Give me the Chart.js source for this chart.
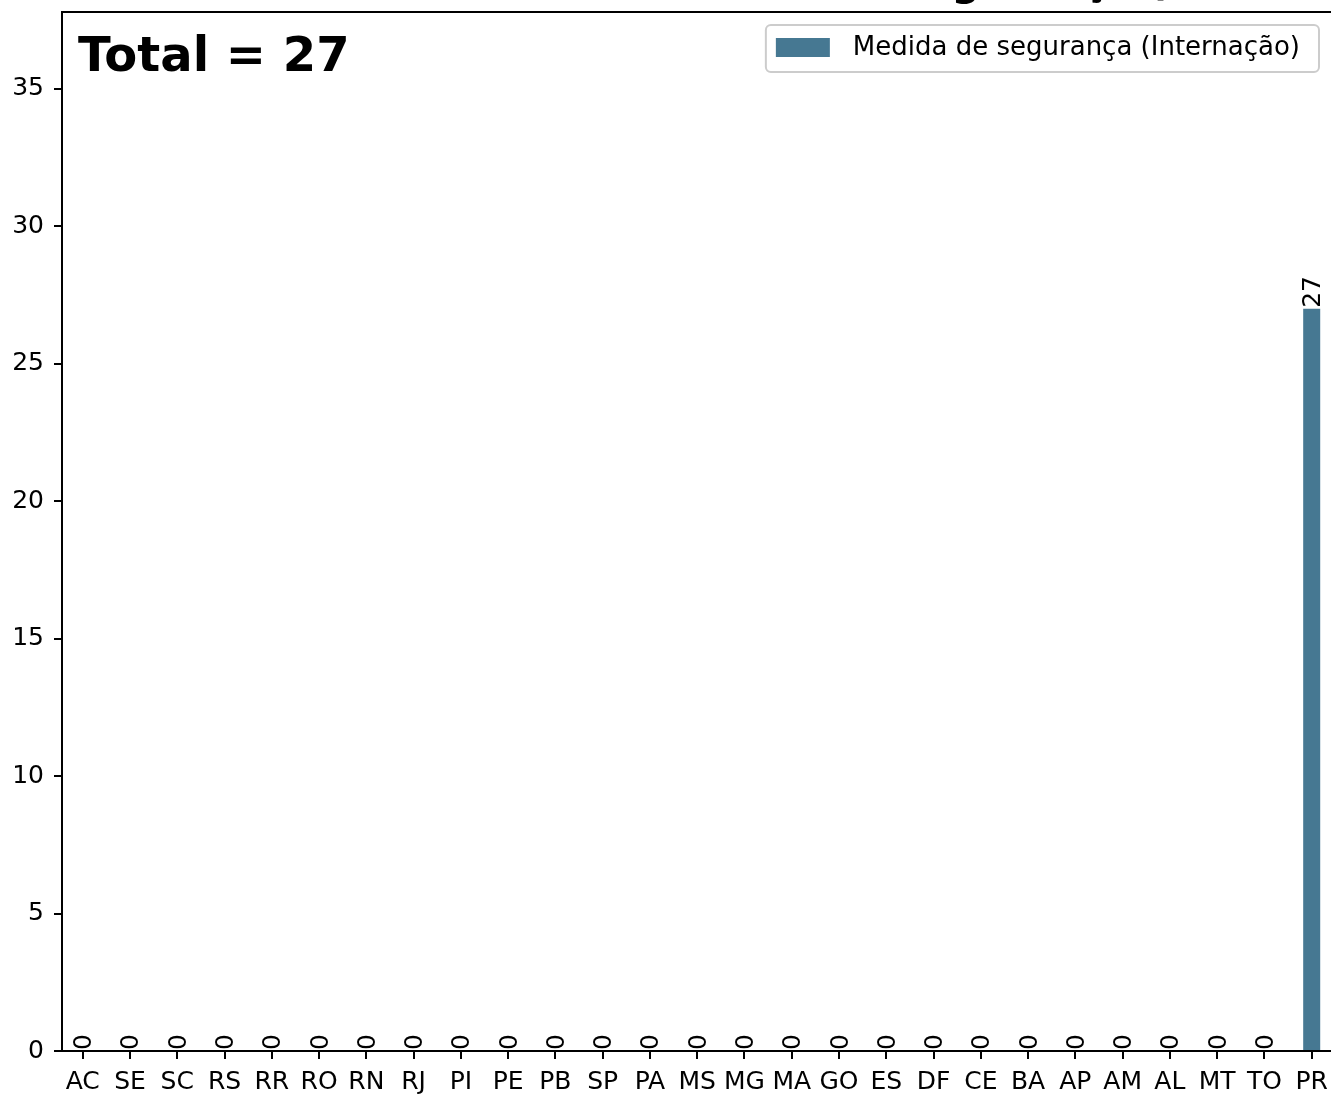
<!DOCTYPE html>
<html><head><meta charset="utf-8">
<script src="https://cdn.jsdelivr.net/npm/chart.js@4"></script>
<style>html,body{margin:0;padding:0;overflow:hidden;background:#fff}#wrap{width:1340px;height:1094px;position:relative}</style>
</head><body><div id="wrap"><canvas id="c"></canvas></div>
<script>
const categories = ['AC','SE','SC','RS','RR','RO','RN','RJ','PI','PE','PB','SP','PA','MS','MG','MA','GO','ES','DF','CE','BA','AP','AM','AL','MT','TO','PR'];
const values = [0,0,0,0,0,0,0,0,0,0,0,0,0,0,0,0,0,0,0,0,0,0,0,0,0,0,27];
const seriesLabel = 'Medida de segurança (Internação)';
const titleText = 'Medida de segurança (Internação)';
const yTicks = [0,5,10,15,20,25,30,35];
const barColor = '#467892';

Chart.defaults.font.family = "'DejaVu Sans', sans-serif";
Chart.defaults.color = '#000';

const total = values.reduce((a,b)=>a+b,0);
const yMax = Math.max(...values) * 1.4;
const xPad = 0.438;

const decor = {
  id: 'decor',
  afterDatasetsDraw(chart) {
    const ctx = chart.ctx;
    const meta = chart.getDatasetMeta(0);
    ctx.save();
    ctx.fillStyle = '#000';
    ctx.font = "25px 'DejaVu Sans'";
    ctx.textAlign = 'left';
    ctx.textBaseline = 'middle';
    meta.data.forEach((bar, i) => {
      ctx.save();
      ctx.translate(bar.x, bar.y - 1);
      ctx.rotate(-Math.PI/2);
      ctx.fillText(String(values[i]), 0, 2);
      ctx.restore();
    });
    ctx.restore();
  },
  afterDraw(chart) {
    const ctx = chart.ctx;
    const a = chart.chartArea;
    ctx.save();
    ctx.strokeStyle = '#000';
    ctx.lineWidth = 2;
    ctx.beginPath();
    ctx.moveTo(a.left, a.top); ctx.lineTo(a.right + 2, a.top);
    ctx.stroke();
    ctx.fillStyle = '#000';
    ctx.font = "bold 40px 'DejaVu Sans'";
    ctx.textAlign = 'left';
    ctx.textBaseline = 'alphabetic';
    ctx.fillText(titleText, 652, -5);
    ctx.font = "bold 48px 'DejaVu Sans'";
    ctx.fillText('Total = ' + total, a.left + 16, a.top + 59);
    ctx.font = "26px 'DejaVu Sans'";
    const tw = ctx.measureText(seriesLabel).width;
    const lw = 10 + 54 + 23 + tw + 19;
    const lh = 47;
    const lr = a.right - 13.4;
    const lt = a.top + 13;
    const ll = lr - lw;
    ctx.beginPath();
    ctx.roundRect(ll, lt, lw, lh, 5);
    ctx.fillStyle = 'rgba(255,255,255,0.8)';
    ctx.fill();
    ctx.strokeStyle = '#cccccc';
    ctx.lineWidth = 2;
    ctx.stroke();
    ctx.fillStyle = barColor;
    ctx.fillRect(ll + 10, lt + 13, 54, 19);
    ctx.fillStyle = '#000';
    ctx.textBaseline = 'middle';
    ctx.fillText(seriesLabel, ll + 10 + 54 + 23, lt + 23.5);
    ctx.restore();
  }
};

new Chart(document.getElementById('c'), {
  type: 'bar',
  data: {
    datasets: [{
      label: seriesLabel,
      data: categories.map((c, i) => ({x: i, y: values[i]})),
      backgroundColor: barColor,
      borderWidth: 0,
      barPercentage: 0.36,
      categoryPercentage: 1.0
    }]
  },
  options: {
    responsive: true,
    maintainAspectRatio: false,
    animation: false,
    devicePixelRatio: 1,
    layout: { padding: { left: 0, right: 7.6, top: 12, bottom: 0 } },
    plugins: { legend: { display: false }, tooltip: { enabled: false }, title: { display: false } },
    scales: {
      x: {
        type: 'linear',
        offset: false,
        min: -xPad,
        max: categories.length - 1 + xPad,
        afterBuildTicks: (s) => { s.ticks = categories.map((c, i) => ({value: i})); },
        afterFit: (s) => { s.height = 43; s.paddingLeft = 0; s.paddingRight = 0; },
        ticks: { autoSkip: false, maxRotation: 0, minRotation: 0, padding: 8, font: { size: 25 },
          callback: (v) => categories[v] ?? '' },
        grid: { offset: false, drawOnChartArea: false, drawTicks: true, tickLength: 8, color: '#000', lineWidth: 2 },
        border: { display: true, color: '#000', width: 2 }
      },
      y: {
        min: 0,
        max: yMax,
        afterBuildTicks: (s) => { s.ticks = yTicks.map(v => ({value: v})); },
        afterFit: (s) => { s.width = 62; s.paddingTop = 0; s.paddingBottom = 0; },
        ticks: { padding: 10, font: { size: 25 } },
        grid: { drawOnChartArea: false, drawTicks: true, tickLength: 8, color: '#000', lineWidth: 2 },
        border: { display: true, color: '#000', width: 2 }
      }
    }
  },
  plugins: [decor]
});
</script></body></html>
